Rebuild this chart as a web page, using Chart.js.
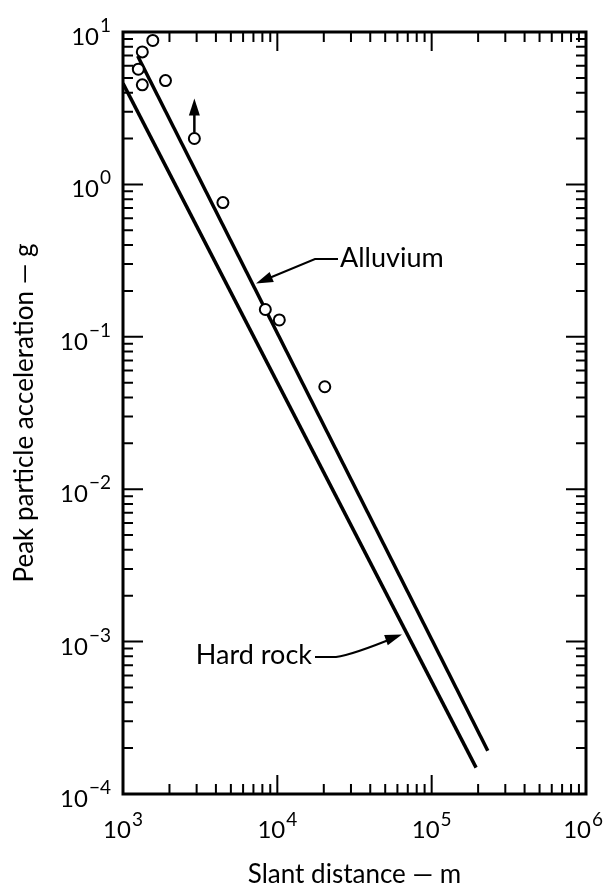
<!DOCTYPE html>
<html><head><meta charset="utf-8">
<script src="https://cdn.jsdelivr.net/npm/chart.js@4.4.0/dist/chart.umd.min.js"></script>
<style>html,body{margin:0;padding:0;background:#fff}#wrap{width:604px;height:888px;position:relative}</style>
</head><body><div id="wrap"><canvas id="c" width="604" height="888"></canvas></div>
<script>
// ---- data ----
const xTickExponents = ['3', '4', '5', '6'];
const yTickExponents = ['1', '0', '\u22121', '\u22122', '\u22123', '\u22124'];
const tickBase = '10';
const obsDistance = [1560, 1334, 1257, 1334, 1885, 2900, 4440, 8360, 10300, 20300];
const obsAccel    = [8.8, 7.4, 5.7, 4.5, 4.8, 2.0, 0.76, 0.151, 0.129, 0.047];
const lowerBoundIndex = [5];           // observation marked with an upward arrow
const alluviumDistance = [1245, 231000];
const alluviumAccel    = [6.95, 1.92e-4];
const hardRockDistance = [1000, 194000];
const hardRockAccel    = [4.6, 1.49e-4];
const xTitle = 'Slant distance \u2014 m';
const yTitle = 'Peak particle acceleration \u2014 g';
const labelAlluvium = 'Alluvium';
const labelHardRock = 'Hard rock';

const FONT = 'Lato, "Open Sans", sans-serif';
const pts = (xs, ys) => xs.map((x, i) => ({x, y: ys[i]}));

function arrowHead(ctx, fx, fy, tx, ty, len, hw) {
  const ang = Math.atan2(ty - fy, tx - fx);
  ctx.beginPath();
  ctx.moveTo(tx, ty);
  ctx.lineTo(tx - len * Math.cos(ang) + hw * Math.sin(ang), ty - len * Math.sin(ang) - hw * Math.cos(ang));
  ctx.lineTo(tx - len * Math.cos(ang) - hw * Math.sin(ang), ty - len * Math.sin(ang) + hw * Math.cos(ang));
  ctx.closePath();
  ctx.fill();
}

const framePlugin = {
  id: 'frame',
  afterDraw(chart) {
    const {ctx, chartArea: a, scales: {x, y}} = chart;
    ctx.save();
    ctx.strokeStyle = '#000'; ctx.fillStyle = '#000';
    // ticks (inward, all four sides)
    ctx.lineWidth = 2;
    ctx.beginPath();
    const xMinE = Math.log10(x.min), xMaxE = Math.log10(x.max);
    for (let e = xMinE; e < xMaxE; e++) {
      for (let k = 1; k <= 9; k++) {
        if (k === 1 && e === xMinE) continue;
        const px = x.getPixelForValue(k * Math.pow(10, e));
        const len = k === 1 ? 19 : 10;
        ctx.moveTo(px, a.bottom); ctx.lineTo(px, a.bottom - len);
        ctx.moveTo(px, a.top); ctx.lineTo(px, a.top + len);
      }
    }
    const yMinE = Math.round(Math.log10(y.min)), yMaxE = Math.round(Math.log10(y.max));
    for (let e = yMinE; e < yMaxE; e++) {
      for (let k = 1; k <= 9; k++) {
        if (k === 1 && e === yMinE) continue;
        const py = y.getPixelForValue(k * Math.pow(10, e));
        const len = k === 1 ? 20 : 10;
        ctx.moveTo(a.left, py); ctx.lineTo(a.left + len, py);
        ctx.moveTo(a.right, py); ctx.lineTo(a.right - len, py);
      }
    }
    ctx.stroke();
    // frame
    ctx.lineWidth = 3;
    ctx.strokeRect(a.left, a.top, a.right - a.left, a.bottom - a.top);

    // tick labels
    const baseFont = '24px ' + FONT, expFont = '19px ' + FONT;
    ctx.textBaseline = 'alphabetic';
    ctx.textAlign = 'left';
    xTickExponents.forEach((ex, i) => {
      const px = x.getPixelForValue(Math.pow(10, xMinE + i));
      ctx.font = baseFont; const wb = ctx.measureText(tickBase).width;
      ctx.font = expFont; const we = ctx.measureText(ex).width;
      const total = wb + we + 1;
      const left = Math.min(px - total / 2, chart.width - 1 - total);
      ctx.font = baseFont; ctx.fillText(tickBase, left, a.bottom + 44);
      ctx.font = expFont; ctx.fillText(ex, left + wb + 1, a.bottom + 32);
    });
    yTickExponents.forEach((ex, i) => {
      const py = y.getPixelForValue(Math.pow(10, yMaxE - i));
      ctx.font = expFont; const we = ctx.measureText(ex).width;
      ctx.font = baseFont; const wb = ctx.measureText(tickBase).width;
      const right = a.left - 12;
      ctx.font = baseFont; ctx.fillText(tickBase, right - we - 1 - wb, py + 13);
      ctx.font = expFont; ctx.fillText(ex, right - we, py);
    });

    // lower-bound arrow on one observation
    lowerBoundIndex.forEach(idx => {
      const px = x.getPixelForValue(obsDistance[idx]);
      const py = y.getPixelForValue(obsAccel[idx]);
      ctx.lineWidth = 2.5;
      ctx.beginPath(); ctx.moveTo(px, py - 6); ctx.lineTo(px, py - 26); ctx.stroke();
      arrowHead(ctx, px, py - 20, px, py - 40, 17, 5.5);
    });

    // annotations
    ctx.font = '27px ' + FONT;
    ctx.textAlign = 'left';
    ctx.fillText(labelAlluvium, 340, 267);
    ctx.lineWidth = 2;
    ctx.beginPath(); ctx.moveTo(338, 259); ctx.lineTo(315, 259); ctx.lineTo(262, 281); ctx.stroke();
    arrowHead(ctx, 315, 259, 256, 283.5, 17, 5.5);

    ctx.textAlign = 'right';
    ctx.fillText(labelHardRock, 312, 664);
    ctx.beginPath(); ctx.moveTo(315, 657); ctx.lineTo(336, 657);
    ctx.quadraticCurveTo(352, 655, 396, 637); ctx.stroke();
    arrowHead(ctx, 352, 652, 402, 634.5, 17, 5.5);
    ctx.restore();
  }
};

new Chart(document.getElementById('c'), {
  type: 'scatter',
  data: {
    datasets: [
      { label: 'Observed', data: pts(obsDistance, obsAccel), showLine: false,
        pointRadius: 5.5, pointBorderWidth: 2, pointBackgroundColor: '#fff', pointBorderColor: '#000' },
      { label: labelAlluvium, data: pts(alluviumDistance, alluviumAccel), showLine: true,
        borderColor: '#000', borderWidth: 3.5, pointRadius: 0, fill: false },
      { label: labelHardRock, data: pts(hardRockDistance, hardRockAccel), showLine: true,
        borderColor: '#000', borderWidth: 3.5, pointRadius: 0, fill: false }
    ]
  },
  options: {
    responsive: false, animation: false, devicePixelRatio: 1,
    layout: { padding: { top: 32, right: 18, left: 0, bottom: 0 } },
    plugins: { legend: { display: false }, tooltip: { enabled: false } },
    scales: {
      x: { type: 'logarithmic', min: 1e3, max: 1e6, position: 'bottom',
           grid: { display: false, drawTicks: false }, border: { display: false },
           ticks: { display: false },
           title: { display: true, text: xTitle, color: '#000', padding: 0,
                    font: { family: FONT, size: 26, lineHeight: 1 } },
           afterFit(s) { s.height = 94; } },
      y: { type: 'logarithmic', min: 1e-4, max: 10, position: 'left',
           grid: { display: false, drawTicks: false }, border: { display: false },
           ticks: { display: false },
           title: { display: true, text: yTitle, color: '#000', padding: { top: 12, bottom: 0 },
                    font: { family: FONT, size: 26, lineHeight: 1 } },
           afterFit(s) { s.width = 123; } }
    }
  },
  plugins: [framePlugin]
});
</script></body></html>
